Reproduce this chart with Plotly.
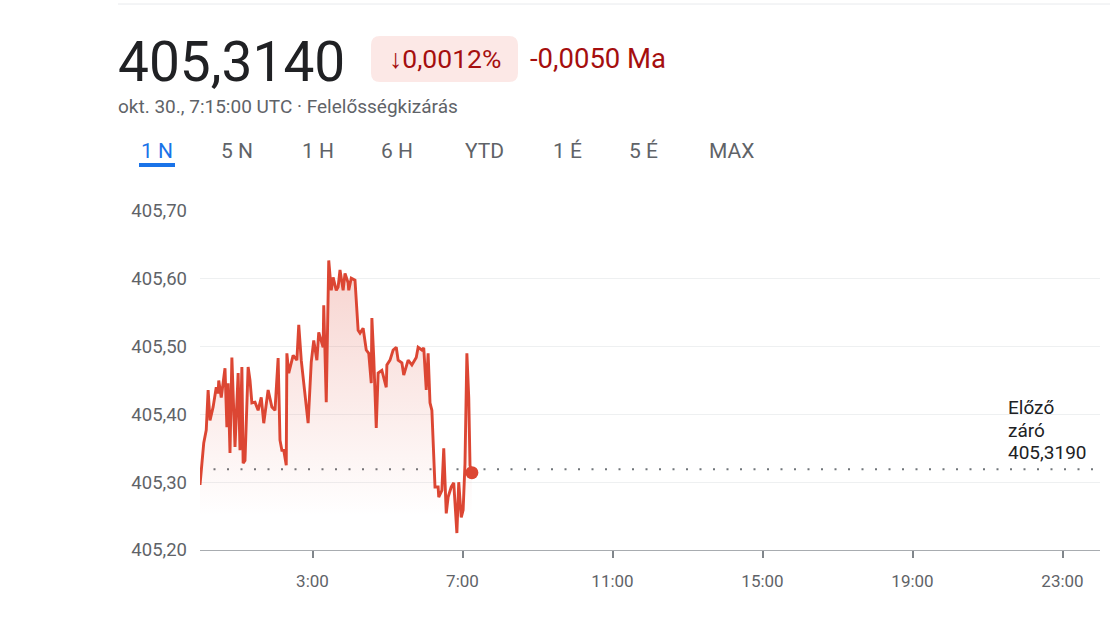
import plotly.graph_objects as go

# ---------------- data ----------------
minutes = [0, 2, 3, 6, 10, 13, 16, 21, 26, 29, 30, 34, 40, 43, 45, 48, 51, 56, 61, 64,
           67, 69, 72, 77, 80, 83, 88, 93, 98, 102, 109, 115, 120, 125, 128, 131, 134, 138, 139, 142,
           149, 155, 158, 162, 166, 173, 178, 182, 187, 190, 197, 198, 202, 206, 210, 213, 218, 221, 224, 229,
           232, 237, 238, 242, 248, 253, 256, 261, 266, 270, 274, 275, 278, 282, 285, 291, 298, 299, 304, 309,
           314, 317, 323, 326, 333, 339, 346, 349, 355, 358, 362, 365, 368, 371, 376, 381, 382, 387, 390, 394,
           397, 402, 406, 411, 414, 418, 421, 424, 427, 430, 432, 435]
prices = [405.296, 405.318, 405.337, 405.358, 405.377, 405.436, 405.391, 405.411, 405.440, 405.431,
          405.450, 405.425, 405.468, 405.381, 405.446, 405.343, 405.484, 405.352, 405.461, 405.347,
          405.470, 405.328, 405.332, 405.470, 405.450, 405.417, 405.418, 405.406, 405.425, 405.387,
          405.436, 405.411, 405.406, 405.483, 405.362, 405.347, 405.347, 405.325, 405.490, 405.461,
          405.487, 405.480, 405.532, 405.480, 405.446, 405.387, 405.477, 405.509, 405.480, 405.521,
          405.499, 405.561, 405.418, 405.627, 405.583, 405.602, 405.583, 405.588, 405.613, 405.583,
          405.608, 405.594, 405.583, 405.601, 405.598, 405.524, 405.520, 405.527, 405.495, 405.490,
          405.446, 405.542, 405.484, 405.380, 405.461, 405.465, 405.440, 405.473, 405.480, 405.495,
          405.499, 405.480, 405.476, 405.458, 405.480, 405.473, 405.484, 405.499, 405.495, 405.498,
          405.436, 405.490, 405.417, 405.406, 405.293, 405.293, 405.278, 405.288, 405.350, 405.254,
          405.278, 405.293, 405.299, 405.225, 405.300, 405.248, 405.259, 405.328, 405.490, 405.425,
          405.325, 405.314]
prev_close = 405.319
last_price = 405.314
pct_change = "0,0012%"
abs_change = "-0,0050 Ma"
timestamp_text = "okt. 30., 7:15:00 UTC · Felelősségkizárás"
prev_close_lines = ["Előző", "záró"]
y_ticks = [405.20, 405.30, 405.40, 405.50, 405.60, 405.70]
x_tick_labels = ["3:00", "7:00", "11:00", "15:00", "19:00", "23:00"]
tabs = ["1 N", "5 N", "1 H", "6 H", "YTD", "1 É", "5 É", "MAX"]

x_tick_vals = [int(t.split(":")[0]) * 60 for t in x_tick_labels]

# ---------------- layout geometry ----------------
W, H = 1110, 624
L, R, T, B = 200, 10, 211, 74
PW, PH = W - L - R, H - T - B


def px(x):
    return (x - L) / PW


def py(y):
    return (H - B - y) / PH


RED = "#dc4633"
FONT = "Roboto, Arial, sans-serif"

fig = go.Figure()

# previous close dotted line
fig.add_trace(go.Scatter(
    x=[0, 1440], y=[prev_close, prev_close], mode="lines",
    line=dict(color="#70757a", width=2, dash="2px,11.5px"),
    hoverinfo="skip", showlegend=False))

# price line with gradient fill
fig.add_trace(go.Scatter(
    x=minutes, y=prices, mode="lines",
    line=dict(color=RED, width=2.9),
    fill="tozeroy",
    fillgradient=dict(type="vertical",
                      colorscale=[[0, "rgba(220,70,51,0)"], [1, "rgba(220,70,51,0.24)"]],
                      start=405.25, stop=405.63),
    showlegend=False))

# last point marker
fig.add_trace(go.Scatter(
    x=[minutes[-1]], y=[prices[-1]], mode="markers",
    marker=dict(color=RED, size=13), showlegend=False))

annotations = []
shapes = []


def fmt(v, d):
    return f"{v:.{d}f}".replace(".", ",")


def ann(text, x, y, size, color, xanchor="left", **kw):
    annotations.append(dict(text=text, x=px(x), y=py(y), xref="paper", yref="paper",
                            xanchor=xanchor, yanchor="middle", showarrow=False,
                            font=dict(size=size, color=color, family=FONT), **kw))


# header
ann(fmt(last_price, 4), 116, 62, 55, "#202124")
# badge
bx0, bx1, by0, by1, r = 371, 518, 36, 82, 9
rx, ry = r / PW, r / PH
X0, X1, Y0, Y1 = px(bx0), px(bx1), py(by1), py(by0)
path = (f"M {X0+rx},{Y0} L {X1-rx},{Y0} Q {X1},{Y0} {X1},{Y0+ry} L {X1},{Y1-ry} "
        f"Q {X1},{Y1} {X1-rx},{Y1} L {X0+rx},{Y1} Q {X0},{Y1} {X0},{Y1-ry} "
        f"L {X0},{Y0+ry} Q {X0},{Y0} {X0+rx},{Y0} Z")
shapes.append(dict(type="path", path=path, xref="paper", yref="paper",
                   fillcolor="#fce8e6", line=dict(width=0), layer="below"))
ann("↓" + pct_change, 445, 59, 26.5, "#a50e0e", xanchor="center")
ann(abs_change, 528, 59, 27.5, "#a50e0e")
ann(timestamp_text, 116, 107, 19, "#5f6368")

# tabs
tab_centers = [157, 237, 318, 397, 484, 567, 643, 731]
for i, (t, cx) in enumerate(zip(tabs, tab_centers)):
    ann(t, cx, 151, 21, "#1a73e8" if i == 0 else "#5f6368", xanchor="center")
ux0, ux1, uy0, uy1 = 139, 175, 163, 167
shapes.append(dict(type="rect", xref="paper", yref="paper", x0=px(ux0), x1=px(ux1), y0=py(uy1), y1=py(uy0),
                   fillcolor="#1a73e8", line=dict(width=0)))

# top separator line
shapes.append(dict(type="line", xref="paper", yref="paper", x0=px(118), x1=px(1110), y0=py(4), y1=py(4),
                   line=dict(color="#e8eaed", width=1)))

# previous close label
for txt, yy in zip(prev_close_lines + [fmt(prev_close, 4)], [407, 430, 452]):
    ann(txt, 1006, yy, 19, "#202124")

fig.update_layout(
    width=W, height=H,
    margin=dict(l=L, r=R, t=T, b=B),
    paper_bgcolor="white", plot_bgcolor="white",
    separators=", ",
    font=dict(family=FONT, color="#5f6368"),
    annotations=annotations, shapes=shapes,
    showlegend=False,
    xaxis=dict(range=[0, 1440], tickvals=x_tick_vals, ticktext=x_tick_labels,
               showgrid=False, zeroline=False, showline=True, linecolor="#a8acb0", linewidth=1.2,
               ticks="outside", ticklen=7, tickwidth=2, tickcolor="#80868b",
               ticklabelstandoff=8, tickfont=dict(size=17, color="#5f6368", family=FONT),
               fixedrange=True),
    yaxis=dict(range=[405.20, 405.70], tickvals=y_ticks, tickformat=".2f",
               showgrid=True, gridcolor="#eef0f1", gridwidth=1, zeroline=False, showline=False,
               ticks="", ticklabelstandoff=12, tickfont=dict(size=18.5, color="#5f6368", family=FONT),
               fixedrange=True),
)

fig.write_html("out.html")
